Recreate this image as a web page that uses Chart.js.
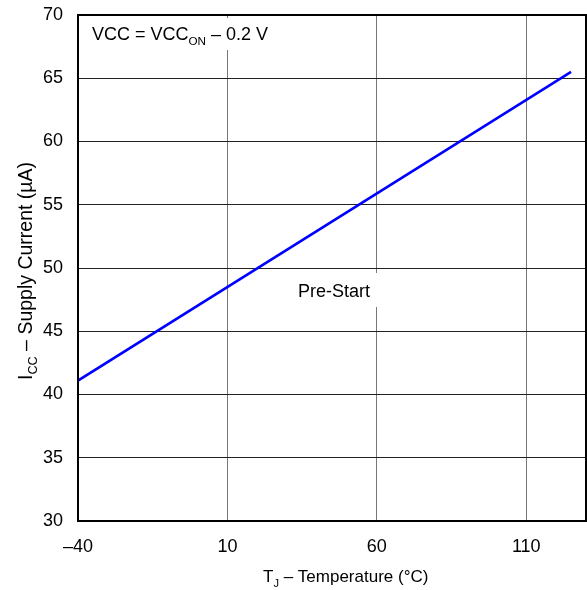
<!DOCTYPE html>
<html>
<head>
<meta charset="utf-8">
<script src="https://cdn.jsdelivr.net/npm/chart.js@4/dist/chart.umd.min.js"></script>
<style>
  html, body { margin: 0; padding: 0; background: #fff; }
  #wrap { position: relative; width: 587px; height: 590px; }
</style>
</head>
<body>
<div id="wrap"><canvas id="chart"></canvas></div>
<script>
// Data
const tempC = [-40, 125];
const supplyUA = [41.1, 65.5];
const xTicks = [-40, 10, 60, 110];
const yTicks = [30, 35, 40, 45, 50, 55, 60, 65, 70];

const FONT = '"Liberation Sans", Arial, sans-serif';

// text made of parts, some of them subscript
function drawRich(ctx, parts, x, y, size) {
  parts.forEach(p => {
    ctx.font = (p.sub ? size * 0.65 : size) + 'px ' + FONT;
    ctx.fillText(p.t, x, p.sub ? y + size * 0.27 : y);
    x += ctx.measureText(p.t).width;
  });
}

const labelsPlugin = {
  id: 'labels',
  beforeDatasetsDraw(chart) {
    const ctx = chart.ctx;
    ctx.save();
    // white boxes behind the annotations hide the grid
    ctx.fillStyle = '#fff';
    ctx.fillRect(86, 18, 195, 32);
    ctx.fillRect(290, 273, 92, 34);
    ctx.restore();
  },
  afterDraw(chart) {
    const ctx = chart.ctx;
    const a = chart.chartArea;
    ctx.save();
    // plot frame
    ctx.strokeStyle = '#000';
    ctx.lineWidth = 2;
    ctx.strokeRect(a.left, a.top, a.right - a.left, a.bottom - a.top);

    ctx.fillStyle = '#000';
    ctx.textBaseline = 'alphabetic';
    ctx.textAlign = 'left';

    drawRich(ctx, [{t: 'VCC = VCC'}, {t: 'ON', sub: true}, {t: ' \u2013 0.2 V'}], 92, 40, 18);
    drawRich(ctx, [{t: 'Pre-Start'}], 298, 297, 18);

    // x title
    drawRich(ctx, [{t: 'T'}, {t: 'J', sub: true}, {t: ' \u2013 Temperature (\u00b0C)'}], 263, 582, 17);

    // y title
    const yt = [{t: 'I'}, {t: 'CC', sub: true}, {t: ' \u2013 Supply Current (\u00b5A)'}];
    ctx.translate(32, 380);
    ctx.rotate(-Math.PI / 2);
    drawRich(ctx, yt, 0, 0, 19.5);
    ctx.restore();
  }
};

new Chart(document.getElementById('chart'), {
  type: 'scatter',
  data: {
    datasets: [{
      data: tempC.map((t, i) => ({x: t, y: supplyUA[i]})),
      showLine: true,
      borderColor: '#0000ff',
      borderWidth: 2.5,
      pointRadius: 0,
      fill: false
    }]
  },
  options: {
    responsive: true,
    maintainAspectRatio: false,
    animation: false,
    layout: { padding: { top: 15, right: 1, left: 0, bottom: 0 } },
    plugins: { legend: { display: false }, tooltip: { enabled: false } },
    scales: {
      x: {
        type: 'linear',
        min: -40,
        max: 130,
        afterBuildTicks: s => { s.ticks = xTicks.map(v => ({value: v})); },
        afterFit: s => { s.height = 69; s.paddingLeft = 0; s.paddingRight = 0; },
        grid: { color: '#777', lineWidth: 1, drawTicks: false },
        border: { display: false },
        ticks: { color: '#000', font: { family: FONT, size: 18 }, padding: 15, maxRotation: 0,
          callback: v => v < 0 ? '\u2013' + Math.abs(v) : String(v) }
      },
      y: {
        type: 'linear',
        min: 30,
        max: 70,
        afterBuildTicks: s => { s.ticks = yTicks.map(v => ({value: v})); },
        afterFit: s => { s.width = 78; s.paddingTop = 0; s.paddingBottom = 0; },
        grid: { color: '#222', lineWidth: 1, drawTicks: false },
        border: { display: false },
        ticks: { color: '#000', font: { family: FONT, size: 18 }, padding: 15 }
      }
    }
  },
  plugins: [labelsPlugin]
});
</script>
</body>
</html>
